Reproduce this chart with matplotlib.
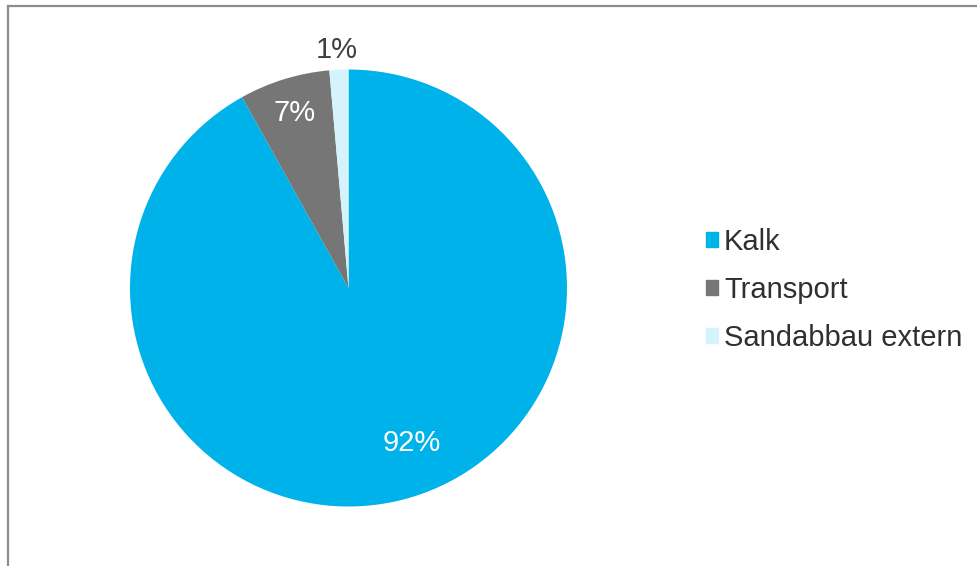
import matplotlib
matplotlib.use("Agg")
import matplotlib.pyplot as plt
from matplotlib.lines import Line2D

plt.rcParams['font.family'] = ['Liberation Sans', 'DejaVu Sans']

categories = ["Kalk", "Transport", "Sandabbau extern"]
shares = [91.9, 6.7, 1.4]
colors = ["#00B2EA", "#767676", "#D5F3FC"]
label_colors = ["white", "white", "#404040"]
# label anchor points in pie units (radius = 1)
label_pos = [(0.29, -0.71), (-0.245, 0.80), (-0.053, 1.09)]

W, H = 978, 566
fig = plt.figure(figsize=(W / 100, H / 100), dpi=100)

# outer chart frame (only left and top edges fall inside the image)
fig.add_artist(Line2D([8 / W, 8 / W], [0, 1 - 5.5 / H], transform=fig.transFigure,
                      color="#8C8C8C", lw=1.6))
fig.add_artist(Line2D([8 / W, 1], [1 - 5.5 / H, 1 - 5.5 / H], transform=fig.transFigure,
                      color="#8C8C8C", lw=1.6))

cx, cy, r = 348.5, 288, 218.5
ax = fig.add_axes([(cx - r) / W, (H - cy - r) / H, 2 * r / W, 2 * r / H])
wedges, _ = ax.pie(shares, colors=colors, startangle=90, counterclock=False,
                   radius=1.0, wedgeprops=dict(linewidth=0))
ax.set_xlim(-1, 1)
ax.set_ylim(-1, 1)
ax.set_aspect("equal")
ax.axis("off")

for v, (x, y), c in zip(shares, label_pos, label_colors):
    ax.text(x, y, f"{round(v):d}%", ha="center", va="center", fontsize=21, color=c)

handles = [plt.Rectangle((0, 0), 1, 1, color=c) for c in colors]
fig.legend(handles, categories, loc="center left", bbox_to_anchor=(680 / W, 1 - 290 / H),
           frameon=False, fontsize=21, handlelength=0.40, handleheight=0.40,
           handletextpad=0.21, labelspacing=0.68, labelcolor="#303030")

fig.savefig("out.png", dpi=100)
